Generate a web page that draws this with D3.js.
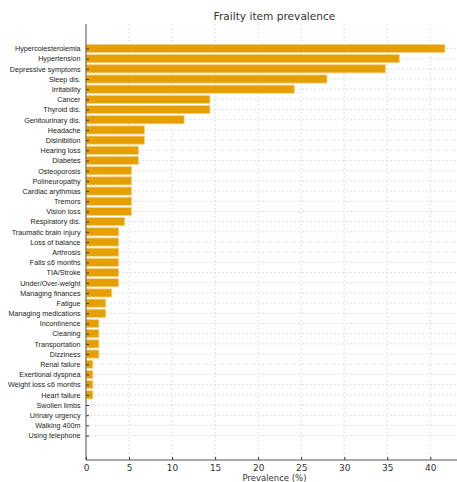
<!DOCTYPE html>
<html><head><meta charset="utf-8">
<script src="https://cdn.jsdelivr.net/npm/d3@7"></script>
<style>body{margin:0;background:#fff}svg{display:block}</style>
</head><body><div id="chart"></div>
<script>
const categories = ["Hypercolesterolemia","Hypertension","Depressive symptoms","Sleep dis.","Irritability","Cancer","Thyroid dis.","Genitourinary dis.","Headache","Disinibition","Hearing loss","Diabetes","Osteoporosis","Polineuropathy","Cardiac arythmias","Tremors","Vision loss","Respiratory dis.","Traumatic brain injury","Loss of balance","Arthrosis","Falls \u22646 months","TIA/Stroke","Under/Over-weight","Managing finances","Fatigue","Managing medications","Incontinence","Cleaning","Transportation","Dizziness","Renal failure","Exertional dyspnea","Weight loss \u22646 months","Heart failure","Swollen limbs","Urinary urgency","Walking 400m","Using telephone"];
const values = [41.7,36.4,34.8,28.0,24.2,14.4,14.4,11.4,6.8,6.8,6.1,6.1,5.3,5.3,5.3,5.3,5.3,4.5,3.8,3.8,3.8,3.8,3.8,3.8,3.0,2.3,2.3,1.5,1.5,1.5,1.5,0.8,0.8,0.8,0.8,0,0,0,0];
const xTicks = [0,5,10,15,20,25,30,35,40];
const title = "Frailty item prevalence";
const xLabel = "Prevalence (%)";

const W = 457, H = 482;
const L = 86, R = 463, T = 24, B = 460;
const svg = d3.select("#chart").append("svg").attr("width", W).attr("height", H);
const x = d3.scaleLinear().domain([0, 43.8]).range([L, R]);
const y = d3.scaleLinear().domain([-2.4, categories.length + 1.4]).range([T, B]);
const bh = y(0.8) - y(0);

const g = svg.append("g");
// grid
g.selectAll("line.vg").data(xTicks).join("line")
  .attr("x1", d => x(d)).attr("x2", d => x(d)).attr("y1", T).attr("y2", B)
  .attr("stroke", "#d9d9d9").attr("stroke-width", 0.8).attr("stroke-dasharray", "2,2");
g.selectAll("line.hg").data(categories).join("line")
  .attr("x1", L).attr("x2", R).attr("y1", (d,i) => y(i)).attr("y2", (d,i) => y(i))
  .attr("stroke", "#d9d9d9").attr("stroke-width", 0.8).attr("stroke-dasharray", "2,2");

// bars
g.selectAll("rect.bar").data(values).join("rect")
  .attr("x", x(0)).attr("y", (d,i) => y(i) - bh/2)
  .attr("width", d => x(d) - x(0)).attr("height", bh)
  .attr("fill", "#E69F00").attr("stroke", "#f5d48a").attr("stroke-width", 0.8);

// y axis
const yAxis = d3.axisLeft(y).tickValues(d3.range(categories.length))
  .tickFormat(i => categories[i]).tickSize(-3).tickPadding(5.5);
const ya = svg.append("g").attr("transform", `translate(${L},0)`).call(yAxis);
ya.select(".domain").remove();
ya.selectAll(".tick line").attr("stroke", "#333");
ya.selectAll(".tick text").attr("font-family", "Liberation Sans, Arial, sans-serif")
  .attr("font-size", 7.2).attr("fill", "#222");

// x axis
const xAxis = d3.axisBottom(x).tickValues(xTicks).tickSize(-3).tickPadding(5);
const xa = svg.append("g").attr("transform", `translate(0,${B})`).call(xAxis);
xa.select(".domain").remove();
xa.selectAll(".tick line").attr("stroke", "#333");
xa.selectAll(".tick text").attr("font-family", "DejaVu Sans, sans-serif")
  .attr("font-size", 9).attr("fill", "#333");

// spines
svg.append("line").attr("x1", L).attr("x2", L).attr("y1", T).attr("y2", B).attr("stroke", "#555").attr("stroke-width", 1);
svg.append("line").attr("x1", L).attr("x2", R).attr("y1", B).attr("y2", B).attr("stroke", "#555").attr("stroke-width", 1);

svg.append("text").attr("x", (L+R)/2).attr("y", 20).attr("text-anchor", "middle")
  .attr("font-family", "DejaVu Sans, sans-serif").attr("font-size", 10.6).attr("fill", "#333").text(title);
svg.append("text").attr("x", (L+R)/2).attr("y", 481).attr("text-anchor", "middle")
  .attr("font-family", "DejaVu Sans, sans-serif").attr("font-size", 8.5).attr("fill", "#333").text(xLabel);
</script></body></html>
